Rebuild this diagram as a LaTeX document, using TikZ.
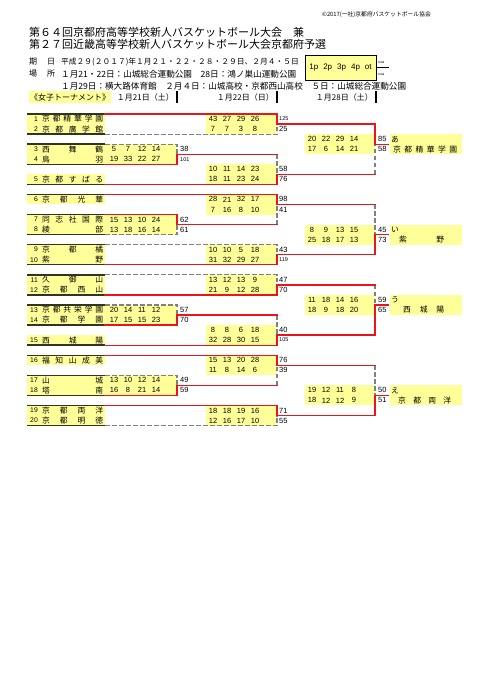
\documentclass[tikz,border=0pt]{standalone}
\usepackage{fontspec}
\setmainfont{Liberation Sans}
\newfontfamily\jp{Noto Sans CJK JP}
\usetikzlibrary{positioning}
\definecolor{ylw}{HTML}{FFFF99}
\definecolor{winred}{HTML}{E8161B}
\definecolor{lossgray}{HTML}{808080}
\definecolor{rule}{HTML}{333322}
% spread the characters of a name over a fixed width
\newcommand\spr[2]{\makebox[#1][s]{\expandafter\sprA#2\relax}}
\def\sprA#1#2{#1\ifx\relax#2\else\hfill\expandafter\sprA\expandafter#2\fi}
\tikzset{
 teamline/.style={draw=rule,line width=1.4pt},
 winline/.style={draw=winred,line width=1.3pt,line cap=rect},
 loseline/.style={draw=lossgray,line width=1.2pt,dash pattern=on 4.5pt off 2.5pt},
 pts/.style={font=\fontsize{7.5}{8}\selectfont,inner sep=0pt},
 tot/.style={font=\fontsize{7.5}{8}\selectfont,inner sep=0pt,anchor=west},
 tnum/.style={font=\fontsize{6.8}{7}\selectfont,inner sep=0pt,anchor=east},
 tname/.style={font=\jp\fontsize{7.8}{8}\selectfont,inner sep=0pt},
 info/.style={font=\jp\fontsize{8}{9}\selectfont,inner sep=0pt,anchor=west},
 headline/.style={font=\jp\fontsize{11}{12}\selectfont,inner sep=0pt,anchor=west}
}

\begin{document}
\begin{tikzpicture}[x=1pt,y=-1pt,declare function={ry(\r)=114+10.05*\r;}]
  \fill[white] (0,0) rectangle (481,680);
  \useasboundingbox (0,0) rectangle (481,680);

  % header
  \node[font=\jp\fontsize{5.8}{6}\selectfont,inner sep=0pt,anchor=east] (copyr) at (431,15) {©2017(一社)京都府バスケットボール協会};
  \node[headline] (title1) at (29,32) {第６４回京都府高等学校新人バスケットボール大会　兼};
  \node[headline] (title2) at (29,44) {第２７回近畿高等学校新人バスケットボール大会京都府予選};
  \node[info] (kiA) at (29,62) {期};
  \node[info] (kiB) at (47,62) {日};
  \node[info,font=\jp\fontsize{7.75}{9}\selectfont] (dates) at (61,62) {平成２９(２０１７)年１月２１・２２・２８・２９日、２月４・５日};
  \node[info] (baA) at (29,74) {場};
  \node[info] (baB) at (47,74) {所};
  \node[info,font=\jp\fontsize{8.6}{9}\selectfont] (venue1) at (61,74) {１月21・22日：山城総合運動公園　28日：鴻ノ巣山運動公園};
  \node[info,font=\jp\fontsize{8.6}{9}\selectfont] (venue2) at (61,86) {１月29日：横大路体育館　２月４日：山城高校・京都西山高校　５日：山城総合運動公園};
  \node[info,fill=ylw,inner xsep=1pt,inner ysep=2pt] (girls) at (29,97) {《女子トーナメント》};
  \foreach \x/\d [count=\i] in {176/１月21日（土）,276/１月22日（日）,375/１月28日（土）} {
    \node[info,anchor=east] (day\i) at (\x-2,97) {\d};
    \draw[line width=1.2pt] (\x+1,91) -- (\x+1,103);
  }
  \node[draw,line width=0.8pt,fill=ylw,minimum width=71pt,minimum height=25pt,font=\fontsize{8}{9}\selectfont] (qbox) at (340.5,67.5)
    {1p\hspace{5pt}2p\hspace{5pt}3p\hspace{5pt}4p\hspace{5pt}ot};
  \draw[line width=0.6pt] (qbox.east) -- ++(13,0);
  \node[font=\fontsize{3.2}{4}\selectfont,inner sep=0pt,anchor=west] (totA) at (378,62) {total};
  \node[font=\fontsize{3.2}{4}\selectfont,inner sep=0pt,anchor=west] (totB) at (378,74) {total};

  % yellow cells
  \foreach \r in {0,1,3,4,6,8,10,11,13,14,16,17,19,20,22,24,26,27,29,30}
    \fill[ylw] (27,{ry(\r)}) rectangle (105,{ry(\r+1)});
  \foreach \r in {3,10,19,26}
    \fill[ylw] (105,{ry(\r)}) rectangle (177,{ry(\r+2)});
  \foreach \r in {0,5,8,13,16,21,24,29}
    \fill[ylw] (206,{ry(\r)}) rectangle (277,{ry(\r+2)});
  \foreach \r in {2,11,18,27} {
    \fill[ylw] (305,{ry(\r)}) rectangle (375,{ry(\r+2)});
    \fill[ylw] (390,{ry(\r)}) rectangle (462,{ry(\r+2)});
  }

  % teams
  \foreach \n/\r/\nm in {1/0/京都精華学園,2/1/京都廣学館,3/3/西舞鶴,4/4/鳥羽,5/6/京都すばる,
      6/8/京都光華,7/10/同志社国際,8/11/綾部,9/13/京都橘,10/14/紫野,11/16/久御山,12/17/京都西山,
      13/19/京都共栄学園,14/20/京都学園,15/22/西城陽,16/24/福知山成美,17/26/山城,18/27/塔南,
      19/29/京都両洋,20/30/京都明徳} {
    \node[tnum] (num\n) at (38,{ry(\r)+5}) {\n};
    \node[tname,right=4pt of num\n] (team\n) {\spr{61pt}{\nm}};
  }

  % scores per quarter and totals
  \foreach \L/\r/\a/\b/\c/\d/\t in {105/3/5/7/12/14/38,105/4/19/33/22/27/101,
      105/10/15/13/10/24/62,105/11/13/18/16/14/61,105/19/20/14/11/12/57,105/20/17/15/15/23/70,
      105/26/13/10/12/14/49,105/27/16/8/21/14/59,
      204/0/43/27/29/26/125,204/1/7/7/3/8/25,204/5/10/11/14/23/58,204/6/18/11/23/24/76,
      204/8/28/21/32/17/98,204/9/7/16/8/10/41,204/13/10/10/5/18/43,204/14/31/32/29/27/119,
      204/16/13/12/13/9/47,204/17/21/9/12/28/70,204/21/8/8/6/18/40,204/22/32/28/30/15/105,
      204/24/15/13/20/28/76,204/25/11/8/14/6/39,204/29/18/18/19/16/71,204/30/12/16/17/10/55,
      303/2/20/22/29/14/85,303/3/17/6/14/21/58,303/11/8/9/13/15/45,303/12/25/18/17/13/73,
      303/18/11/18/14/16/59,303/19/18/9/18/20/65,303/27/19/12/11/8/50,303/28/18/12/12/9/51} {
    \node[pts] (q\L-\r-1) at (\L+9,{ry(\r)+5}) {\a};
    \node[pts] (q\L-\r-2) at (\L+23,{ry(\r)+5}) {\b};
    \node[pts] (q\L-\r-3) at (\L+37,{ry(\r)+5}) {\c};
    \node[pts] (q\L-\r-4) at (\L+51,{ry(\r)+5}) {\d};
    \node[tot] (t\L-\r) at (\L+75,{ry(\r)+5}) {\ifnum\t>99 \fontsize{5.5}{6}\selectfont\fi\t};
  }

  % bracket lines
  \foreach \b in {0,2,3,5,7,8,10,12,13,15,16,18,19,21,23,24,26,28,29,31}
    \draw[teamline] (27,{ry(\b)}) -- (105,{ry(\b)});
  \foreach \xa/\ba/\xb/\bb in {105/2/277/1,105/3/177/4,105/12/177/11,105/13/277/14,105/16/277/17,
      105/19/177/20,105/26/177/27,105/31/277/30,
      277/4/277/6,277/11/277/9,277/20/277/22,277/27/277/25,
      375/6/375/3,375/9/375/12,375/17/375/19,375/25/375/28}
    \draw[loseline] (\xa,{ry(\ba)}) -| (\xb,{ry(\bb)});
  \foreach \xa/\ba/\xb/\bb in {105/0/277/1,105/5/177/4,105/7/277/6,105/8/277/9,105/10/177/11,
      105/15/277/14,105/18/277/17,105/21/177/20,105/23/277/22,105/24/277/25,105/28/177/27,105/29/277/30,
      177/4/277/4,177/11/277/11,177/20/277/20,177/27/277/27,
      277/1/375/3,277/6/375/6,277/9/375/9,277/14/375/12,277/17/375/17,277/22/375/19,277/25/375/25,277/30/375/28,
      375/3/388/3,375/12/388/12,375/19/388/19,375/28/388/28}
    \draw[winline] (\xa,{ry(\ba)}) -| (\xb,{ry(\bb)});

  % block winners
  \foreach \r/\k/\x/\w/\nm in {2/あ/393/64pt/京都精華学園,11/い/399/45pt/紫野,18/う/403/41pt/西城陽,27/え/398/53pt/京都両洋} {
    \node[tname,anchor=west] (seed\r) at (391,{ry(\r)+5}) {\k};
    \node[tname,anchor=west] (champ\r) at (\x,{ry(\r+1)+5}) {\spr{\w}{\nm}};
  }
\end{tikzpicture}
\end{document}
